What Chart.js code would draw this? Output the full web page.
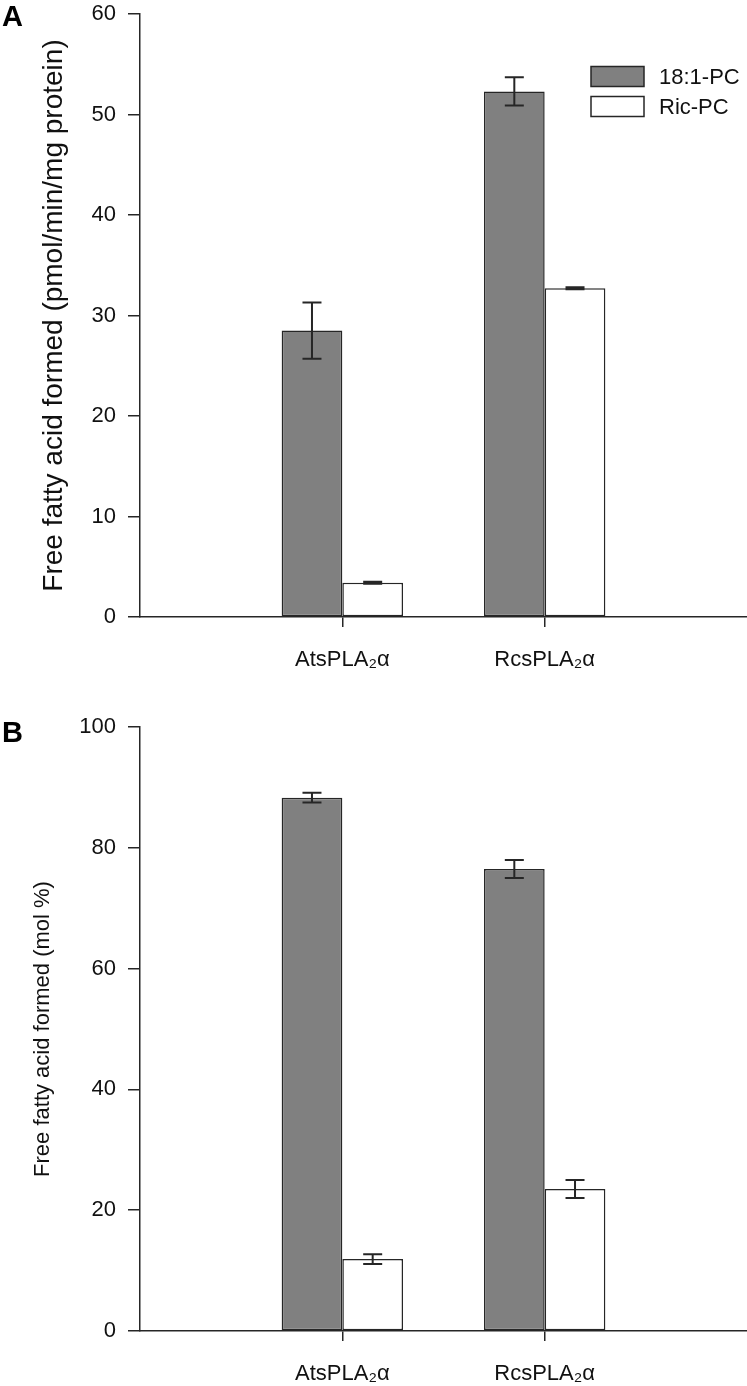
<!DOCTYPE html>
<html>
<head>
<meta charset="utf-8">
<script src="https://cdn.jsdelivr.net/npm/chart.js@4.4.0/dist/chart.umd.min.js"></script>
<style>
  html, body { margin: 0; padding: 0; background: #fff; }
  .panel { position: relative; width: 747px; height: 693px; }
</style>
</head>
<body>
<div class="panel"><canvas id="chartA" width="747" height="693"></canvas></div>
<div class="panel"><canvas id="chartB" width="747" height="693"></canvas></div>
<script>
// categories (blank slots at both ends keep the bars in the middle thirds)
let categories = ['', 'AtsPLA\u2082\u03b1', 'RcsPLA\u2082\u03b1', '']
let seriesNames = ['18:1-PC', 'Ric-PC']

// panel A: pmol/min/mg protein
let rateOleic = [null, 28.5, 52.3, null]
let rateOleicErr = [null, 2.8, 1.4, null]
let rateRic = [null, 3.4, 32.7, null]
let rateRicErr = [null, 0.05, 0.05, null]

// panel B: mol %
let molOleic = [null, 88.3, 76.5, null]
let molOleicErr = [null, 0.8, 1.5, null]
let molRic = [null, 11.9, 23.5, null]
let molRicErr = [null, 0.8, 1.5, null]

const FONT = 'Liberation Sans, Arial, Helvetica, sans-serif'
const INK = '#262626'

// error bars drawn from each dataset's errs array through the y scale
const errorBars = {
  id: 'errorBars',
  afterDatasetsDraw(chart) {
    const ctx = chart.ctx
    const y = chart.scales.y
    ctx.save()
    ctx.strokeStyle = INK
    chart.data.datasets.forEach((ds, di) => {
      const meta = chart.getDatasetMeta(di)
      meta.data.forEach((bar, i) => {
        const v = ds.data[i]
        const e = ds.errs[i]
        if (v == null || e == null) return
        const yt = y.getPixelForValue(v + e)
        const yb = y.getPixelForValue(v - e)
        const half = 9.5
        ctx.lineWidth = (yb - yt < 2) ? 3 : 2
        ctx.beginPath()
        ctx.moveTo(bar.x, yt); ctx.lineTo(bar.x, yb)
        ctx.moveTo(bar.x - half, yt); ctx.lineTo(bar.x + half, yt)
        ctx.moveTo(bar.x - half, yb); ctx.lineTo(bar.x + half, yb)
        ctx.stroke()
      })
    })
    ctx.restore()
  }
}

// panel letter + optional legend in the top right corner
const decor = {
  id: 'decor',
  afterDraw(chart, args, opts) {
    const ctx = chart.ctx
    ctx.save()
    ctx.fillStyle = '#000'
    ctx.font = 'bold 29px ' + FONT
    ctx.textBaseline = 'alphabetic'
    ctx.fillText(opts.letter, 2, opts.letterY)
    if (opts.legend) {
      ctx.font = '22px ' + FONT
      ctx.textBaseline = 'middle'
      chart.data.datasets.forEach((ds, i) => {
        const bx = 591, by = 66.5 + i * 30
        ctx.fillStyle = ds.backgroundColor
        ctx.fillRect(bx, by, 53, 20)
        ctx.strokeStyle = INK
        ctx.lineWidth = 1.5
        ctx.strokeRect(bx, by, 53, 20)
        ctx.fillStyle = '#111'
        ctx.fillText(ds.label, 659, by + 11)
      })
    }
    ctx.restore()
  }
}

function makeChart(id, d1, e1, d2, e2, yMax, yStep, title, titleSize, titlePad, padTop, xHeight, letter, letterY, legend) {
  return new Chart(document.getElementById(id), {
    type: 'bar',
    data: {
      labels: categories,
      datasets: [
        { label: seriesNames[0], data: d1, errs: e1, backgroundColor: '#808080',
          borderColor: INK, borderWidth: 1.5, borderSkipped: false },
        { label: seriesNames[1], data: d2, errs: e2, backgroundColor: '#ffffff',
          borderColor: INK, borderWidth: 1.5, borderSkipped: false }
      ]
    },
    options: {
      responsive: false,
      animation: false,
      devicePixelRatio: 1,
      layout: { padding: { top: padTop, right: 0, left: 0, bottom: 0 } },
      plugins: {
        legend: { display: false },
        tooltip: { enabled: false },
        decor: { letter: letter, letterY: letterY, legend: legend }
      },
      datasets: { bar: { categoryPercentage: 0.6, barPercentage: 1.0 } },
      scales: {
        x: {
          offset: false,
          afterFit(s) { s.height = xHeight; s.paddingLeft = 0; s.paddingRight = 0 },
          grid: {
            offset: false,
            drawOnChartArea: false, drawTicks: true, tickLength: 10, lineWidth: 1.5,
            color: c => (c.index === 1 || c.index === 2) ? INK : 'rgba(0,0,0,0)'
          },
          border: { display: true, color: INK, width: 1.5 },
          ticks: { color: '#111', font: { family: FONT, size: 22 }, padding: 20, maxRotation: 0, autoSkip: false }
        },
        y: {
          min: 0, max: yMax,
          afterFit(s) { s.width = 140; s.paddingTop = 0; s.paddingBottom = 0 },
          grid: { drawOnChartArea: false, drawTicks: true, tickLength: 12, lineWidth: 1.5, color: INK },
          border: { display: true, color: INK, width: 1.5 },
          ticks: { stepSize: yStep, color: '#111', font: { family: FONT, size: 22 }, padding: 12 },
          title: { display: true, text: title, color: '#111', font: { family: FONT, size: titleSize }, padding: { top: titlePad, bottom: 0 } }
        }
      }
    },
    plugins: [errorBars, decor]
  })
}

const chartA = makeChart('chartA', rateOleic, rateOleicErr, rateRic, rateRicErr, 60, 10,
  'Free fatty acid formed (pmol/min/mg protein)', 28, 37, 14, 76, 'A', 26, true)
const chartB = makeChart('chartB', molOleic, molOleicErr, molRic, molRicErr, 100, 20,
  'Free fatty acid formed (mol %)', 22, 30, 34, 55, 'B', 49, false)
</script>
</body>
</html>
